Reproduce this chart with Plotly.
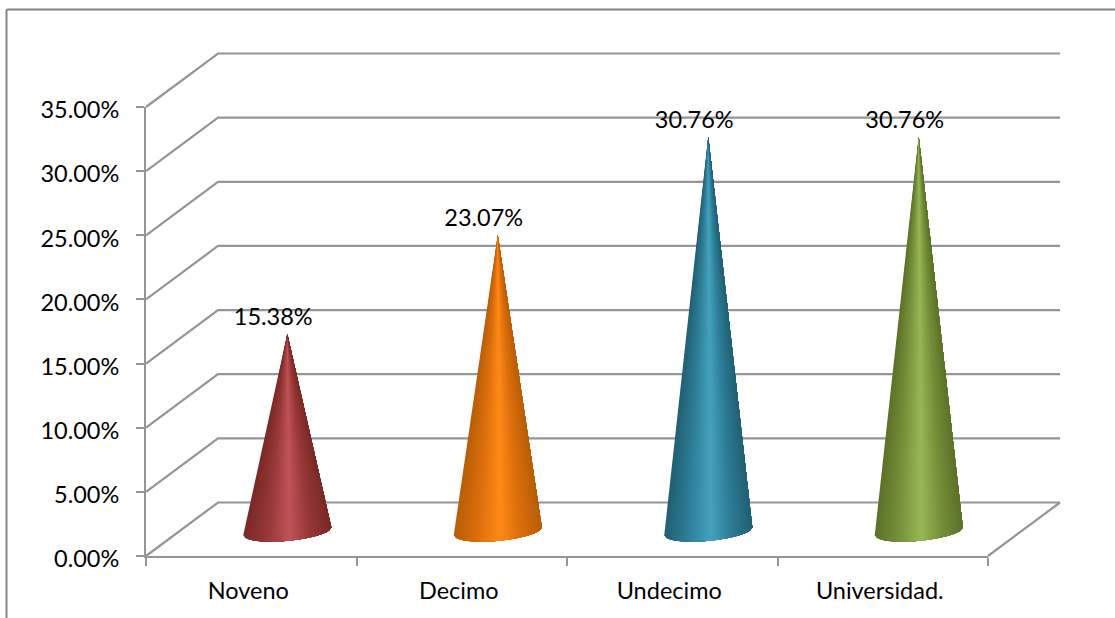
import numpy as np
import plotly.graph_objects as go

categories = ["Noveno", "Decimo", "Undecimo", "Universidad."]
values = [15.38, 23.07, 30.76, 30.76]
value_labels = ["15.38%", "23.07%", "30.76%", "30.76%"]
y_ticks = [0, 5, 10, 15, 20, 25, 30, 35]
y_tick_labels = ["0.00%", "5.00%", "10.00%", "15.00%", "20.00%", "25.00%", "30.00%", "35.00%"]
edge_colors = ["#7a2a29", "#b85f07", "#226072", "#5c7229"]
mid_colors = ["#98393a", "#dd700c", "#2f7f99", "#76923c"]
high_colors = ["#c0545a", "#ff8a18", "#45a3bd", "#98b856"]

W, H = 1115, 618
L, R, T, B = 146, 988, 107, 556
PX = (R - L) / 4            # pixels per category
PY = (B - T) / 35           # pixels per percentage point
DX, DY = 72 / PX, 53.5 / PY   # depth of the chart box
GRID = "#959595"
FONT = "Lato, Carlito, Calibri, sans-serif"
FONT_SIZE = 23.5
on_page = dict(xaxis="x2", yaxis="y2", hoverinfo="skip", showlegend=False)


def rgb(h):
    return np.array([int(h[i:i + 2], 16) for i in (1, 3, 5)], float)


def shade(u, edge, mid, high):
    stops = [-1.0, -0.45, 0.06, 0.5, 1.0]
    cols = [rgb(edge), rgb(mid), rgb(high), rgb(mid), rgb(edge)]
    c = [np.interp(u, stops, [k[j] for k in cols]) for j in range(3)]
    return "rgb(%d,%d,%d)" % tuple(c)


fig = go.Figure()

# keeps the front axes alive; invisible
fig.add_trace(go.Scatter(x=[0, 4], y=[0, 35], mode="markers", marker=dict(size=1, opacity=0),
                         hoverinfo="skip", showlegend=False))

# back wall and side wall lines
for v in y_ticks:
    fig.add_trace(go.Scatter(
        x=[0, DX, 4 + DX], y=[v, v + DY, v + DY], mode="lines",
        line=dict(color=GRID, width=2.2), **on_page))
# right edge of the floor
fig.add_trace(go.Scatter(
    x=[4, 4 + DX], y=[0, DY], mode="lines",
    line=dict(color=GRID, width=2.2), **on_page))

# cones: painted left to right, each layer running from the tip round the rim
HALF_W = 44 / PX
TILT = 4 / PY
RIM = 9.6 / PY
N = 60
us = np.linspace(-1, 1, N + 1)
for i, v in enumerate(values):
    cx = i + 0.5 + DX / 2
    cy = DY / 2 - 2 / PY
    for a, b in zip(us[:-1], us[1:]):
        ts = np.arccos(np.linspace(a, 1, max(3, int((1 - a) * 20))))
        xs = cx + HALF_W * np.cos(ts)
        ys = cy + TILT * np.cos(ts) - RIM * np.sin(ts)
        col = shade((a + b) / 2, edge_colors[i], mid_colors[i], high_colors[i])
        fig.add_trace(go.Scatter(
            x=[cx, *xs, cx], y=[cy + v, *ys, cy + v], mode="lines",
            fill="toself", fillcolor=col, line=dict(color=col, width=0), **on_page))

# value labels
fig.add_trace(go.Scatter(
    x=[i + 0.5 + DX / 2 - 14 / PX for i in range(4)],
    y=[v + DY / 2 + 13 / PY for v in values],
    mode="text", text=value_labels, textposition="middle center",
    textfont=dict(family=FONT, size=FONT_SIZE, color="#000000"), **on_page))

fig.update_layout(
    width=W, height=H, autosize=False,
    margin=dict(l=0, r=0, t=0, b=0, pad=0, autoexpand=False),
    paper_bgcolor="white", plot_bgcolor="rgba(0,0,0,0)", showlegend=False,
    font=dict(family=FONT, size=FONT_SIZE, color="#000000"),
    xaxis=dict(
        domain=[L / W, R / W], anchor="y",
        range=[0, 4], showgrid=False, zeroline=False, showline=True,
        linecolor=GRID, linewidth=2,
        tickmode="array", tickvals=[k + 0.5 - 3 / PX for k in range(4)],
        ticktext=categories, ticks="", ticklabelstandoff=13,
        minor=dict(tickmode="array", tickvals=[0, 1, 2, 3, 4], ticks="outside",
                   ticklen=8, tickwidth=1.5, tickcolor=GRID, showgrid=False),
    ),
    yaxis=dict(
        domain=[(H - B) / H, (H - T) / H], anchor="x",
        range=[0, 35], showgrid=False, zeroline=False, showline=True,
        linecolor=GRID, linewidth=2,
        tickmode="array", tickvals=y_ticks, ticktext=y_tick_labels,
        ticks="outside", ticklen=8, tickwidth=1.5, tickcolor=GRID,
        ticklabelstandoff=12, ticklabelshift=3,
    ),
    xaxis2=dict(domain=[0, 1], anchor="y2", range=[-L / PX, (W - L) / PX], visible=False),
    yaxis2=dict(domain=[0, 1], anchor="x2", range=[-(H - B) / PY, B / PY], visible=False),
    shapes=[
        dict(type="line", xref="paper", yref="paper",
             x0=6.5 / W, x1=1, y0=1 - 9.5 / H, y1=1 - 9.5 / H,
             line=dict(color="#868686", width=2)),
        dict(type="line", xref="paper", yref="paper",
             x0=6.5 / W, x1=6.5 / W, y0=1 - 9.5 / H, y1=0,
             line=dict(color="#868686", width=2)),
    ],
)

fig.write_html("out.html", config=dict(displayModeBar=False),
               post_script="document.body.style.margin='0';document.documentElement.style.overflow='hidden';")
